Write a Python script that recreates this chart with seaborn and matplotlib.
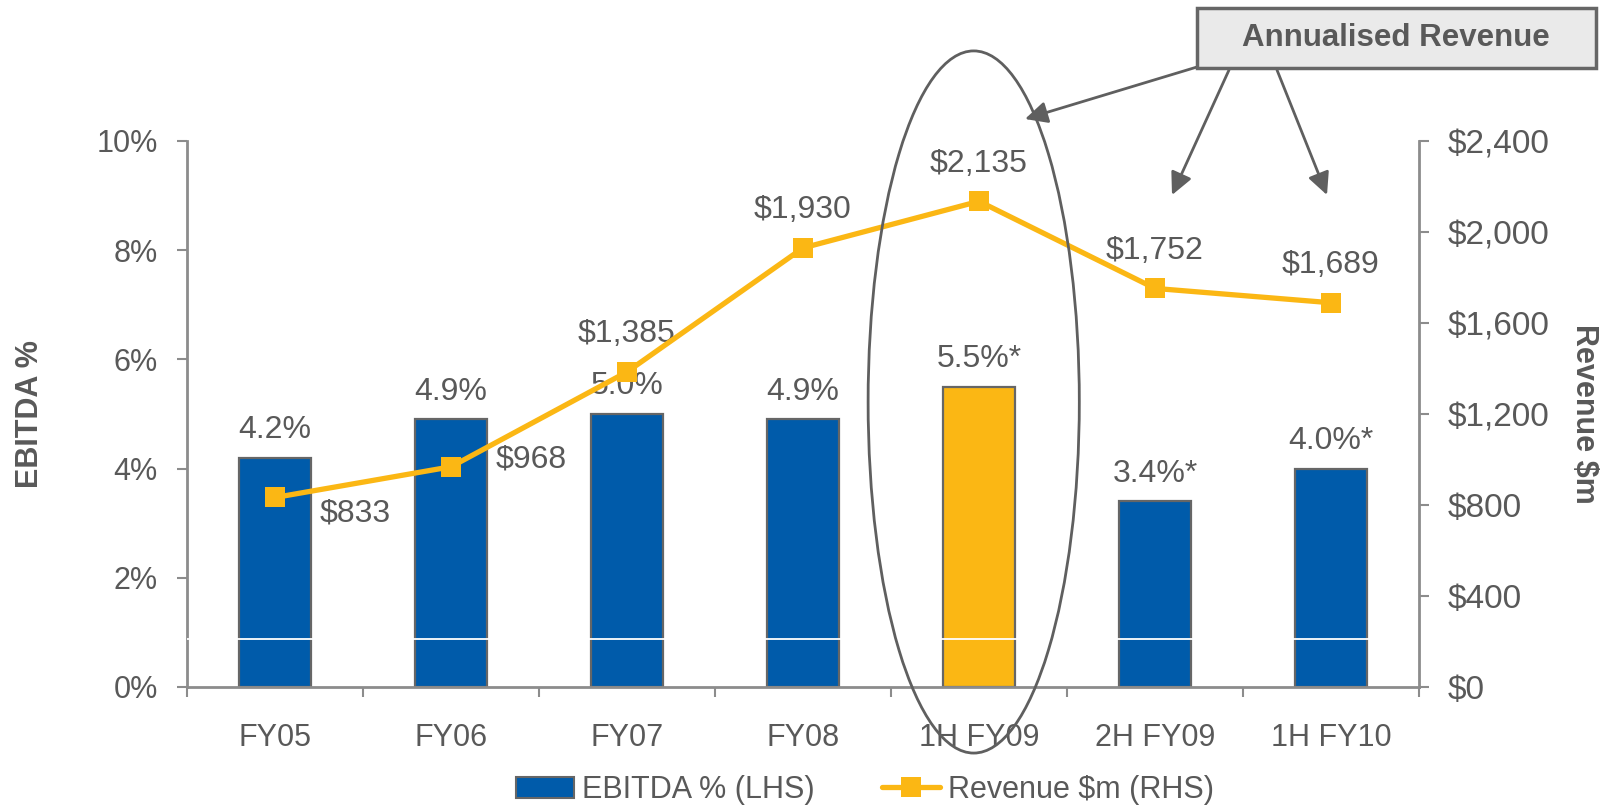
import numpy as np
import matplotlib
matplotlib.use("Agg")
import matplotlib.pyplot as plt
from matplotlib.patches import Ellipse, Rectangle, Patch
from matplotlib.lines import Line2D
from matplotlib.ticker import FuncFormatter, FixedLocator
import seaborn as sns

# Chart data
periods = ["FY05", "FY06", "FY07", "FY08", "1H FY09", "2H FY09", "1H FY10"]
ebitda_pct = [4.2, 4.9, 5.0, 4.9, 5.5, 3.4, 4.0]
ebitda_labels = ["4.2%", "4.9%", "5.0%", "4.9%", "5.5%*", "3.4%*", "4.0%*"]
revenue = [833, 968, 1385, 1930, 2135, 1752, 1689]
revenue_labels = ["$833", "$968", "$1,385", "$1,930", "$2,135", "$1,752", "$1,689"]

BLUE = "#005BAA"
GOLD = "#FBB714"
TEXT = "#595959"
AXIS = "#8C8C8C"
EDGE = "#666666"

W, H = 1602, 809


def main():
    sns.set_theme(style="white")
    plt.rcParams["font.family"] = ["Liberation Sans", "DejaVu Sans"]

    fig = plt.figure(figsize=(W / 100, H / 100), dpi=100)
    ax1 = fig.add_axes([187 / W, 1 - 687 / H, (1419 - 187) / W, (687 - 141) / H])

    colors = [GOLD if p == "1H FY09" else BLUE for p in periods]
    sns.barplot(x=periods, y=ebitda_pct, hue=periods, palette=colors,
                legend=False, width=0.41, edgecolor=EDGE, linewidth=1.6,
                saturation=1, ax=ax1, zorder=2)
    ax1.set_xlim(-0.5, 6.5)
    ax1.set_ylim(0, 10)
    ax1.set_yticks(np.arange(0, 11, 2))
    ax1.yaxis.set_major_formatter(FuncFormatter(lambda v, _: f"{v:.0f}%"))
    ax1.set_xlabel("")
    ax1.set_ylabel("")

    # thin white rule through the bars
    ax1.axhline(0.88, color="white", lw=1.3, zorder=3)

    for i, (v, lab) in enumerate(zip(ebitda_pct, ebitda_labels)):
        ax1.annotate(lab, (i, v), xytext=(0, 20), textcoords="offset points",
                     ha="center", va="center", fontsize=23, color=TEXT)

    ax2 = ax1.twinx()
    ax2.set_position(ax1.get_position())
    sns.lineplot(x=np.arange(len(revenue)), y=revenue, ax=ax2, color=GOLD,
                 lw=3.8, marker="s", markersize=14.5, markeredgewidth=0,
                 zorder=4)
    ax2.set_ylim(0, 2400)
    ax2.set_yticks(np.arange(0, 2401, 400))
    ax2.yaxis.set_major_formatter(FuncFormatter(lambda v, _: f"${v:,.0f}"))
    ax2.set_ylabel("")

    for i, (v, lab) in enumerate(zip(revenue, revenue_labels)):
        if i == 0:
            off, ha = (32, -11.5), "left"
        elif i == 1:
            off, ha = (32, 5), "left"
        else:
            off, ha = (0, 27), "center"
        ax2.annotate(lab, (i, v), xytext=off, textcoords="offset points",
                     ha=ha, va="center", fontsize=23, color=TEXT)

    # spines and ticks
    for ax in (ax1, ax2):
        for s in ax.spines.values():
            s.set_visible(False)
        ax.grid(False)
    ax1.spines["left"].set_visible(True)
    ax1.spines["bottom"].set_visible(True)
    ax2.spines["right"].set_visible(True)
    for s in (ax1.spines["left"], ax1.spines["bottom"], ax2.spines["right"]):
        s.set_color(AXIS)
        s.set_linewidth(2)

    ax1.tick_params(axis="y", left=True, length=7, width=1.5, color=AXIS,
                    pad=14, labelsize=22, labelcolor=TEXT)
    ax2.tick_params(axis="y", right=True, length=7, width=1.5, color=AXIS,
                    pad=14, labelsize=24, labelcolor=TEXT)
    ax1.set_xticks(range(len(periods)))
    ax1.set_xticklabels(periods)
    ax1.xaxis.set_minor_locator(FixedLocator(np.arange(-0.5, 7, 1)))
    ax1.tick_params(axis="x", which="major", length=0, pad=26, labelsize=22,
                    labelcolor=TEXT)
    ax1.tick_params(axis="x", which="minor", bottom=True, length=7, width=1.5,
                    color=AXIS)

    # axis titles
    fig.text(30 / W, 1 - 414 / H, "EBITDA %", rotation=90, ha="center",
             va="center", fontsize=22, fontweight="bold", color=TEXT)
    fig.text(1584 / W, 1 - 414 / H, "Revenue $m", rotation=270, ha="center",
             va="center", fontsize=22, fontweight="bold", color=TEXT)

    # highlight ellipse around 1H FY09
    ax2.add_patch(Ellipse((3.97, 5.22), 1.2, 12.86, transform=ax1.transData,
                          fill=False, ec="#5f5f5f", lw=2, clip_on=False,
                          zorder=6))

    # callout box and arrows
    fig.add_artist(Rectangle((1197 / W, 1 - 68 / H), 399 / W, 60 / H,
                             transform=fig.transFigure, fc="#EAEAEA",
                             ec=EDGE, lw=2.5))
    fig.text(1396 / W, 1 - 38 / H, "Annualised Revenue", ha="center",
             va="center", fontsize=22.5, fontweight="bold", color=TEXT)
    arrows = [((1197, 67), (1025, 119)),
              ((1229, 70), (1172, 195)),
              ((1277, 70), (1327, 195))]
    for (sx, sy), (tx, ty) in arrows:
        ax1.annotate("", xy=(tx / W, 1 - ty / H), xycoords="figure fraction",
                     xytext=(sx / W, 1 - sy / H), textcoords="figure fraction",
                     annotation_clip=False,
                     arrowprops=dict(arrowstyle="-|>,head_length=0.45,head_width=0.22",
                                     mutation_scale=30, color="#5f5f5f", lw=2,
                                     shrinkA=0, shrinkB=0))

    # legend
    handles = [Patch(facecolor=BLUE, edgecolor=EDGE, linewidth=1.5),
               Line2D([0], [0], color=GOLD, lw=3.8, marker="s", markersize=14,
                      markeredgewidth=0)]
    fig.legend(handles, ["EBITDA % (LHS)", "Revenue $m (RHS)"], loc="center",
               bbox_to_anchor=(865 / W, 1 - 790 / H), ncol=2, frameon=False,
               fontsize=22, handlelength=1.9, handletextpad=0.25,
               columnspacing=2.2, labelcolor=TEXT)

    fig.savefig("out.png", dpi=100)
    plt.close(fig)


if __name__ == "__main__":
    main()
